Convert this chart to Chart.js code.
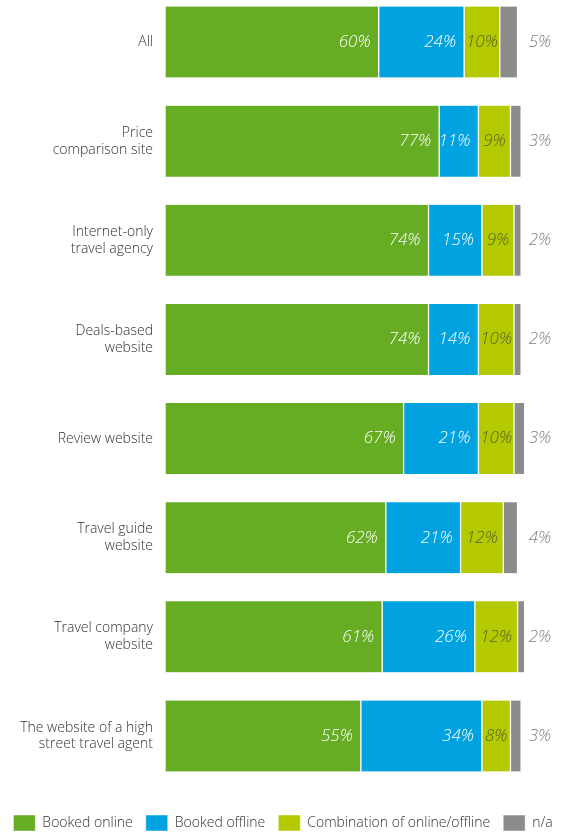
<!DOCTYPE html>
<html>
<head>
<meta charset="utf-8">
<script src="https://cdn.jsdelivr.net/npm/chart.js@4.4.0/dist/chart.umd.min.js"></script>
<style>
  body { margin: 0; background: #fff; overflow: hidden; }
  #wrap { width: 566px; height: 841px; }
</style>
</head>
<body>
<div id="wrap"><canvas id="myChart"></canvas></div>
<script>
var kategori = [
    "All",
    ["Price", "comparison site"],
    ["Internet-only", "travel agency"],
    ["Deals-based", "website"],
    "Review website",
    ["Travel guide", "website"],
    ["Travel company", "website"],
    ["The website of a high", "street travel agent"]
];

var online = [60, 77, 74, 74, 67, 62, 61, 55];
var offline = [24, 11, 15, 14, 21, 21, 26, 34];
var kombinasi = [10, 9, 9, 10, 10, 12, 12, 8];
var na = [5, 3, 2, 2, 3, 4, 2, 3];

var namaSeri = ["Booked online", "Booked offline", "Combination of online/offline", "n/a"];
var warna = ['#66ad24', '#00a3e0', '#b5c900', '#8c8c8c'];

var fontUtama = "'Open Sans', 'DejaVu Sans', sans-serif";

// label persen di dalam / di samping batang
var labelPersen = {
    id: 'labelPersen',
    afterDatasetsDraw: function(chart) {
        var ctx = chart.ctx;
        var area = chart.chartArea;
        ctx.save();
        ctx.font = "italic 300 17px " + fontUtama;
        ctx.textBaseline = 'middle';
        chart.data.datasets.forEach(function(ds, i) {
            var meta = chart.getDatasetMeta(i);
            meta.data.forEach(function(bar, j) {
                var teks = ds.data[j] + '%';
                if (i == 0 || i == 1) {
                    ctx.fillStyle = '#ffffff';
                    ctx.textAlign = 'right';
                    ctx.fillText(teks, bar.x - 8, bar.y);
                } else if (i == 2) {
                    ctx.fillStyle = '#5b6128';
                    ctx.textAlign = 'center';
                    ctx.fillText(teks, (bar.x + bar.base) / 2, bar.y);
                } else {
                    ctx.fillStyle = '#7f7f7f';
                    ctx.textAlign = 'center';
                    ctx.fillText(teks, area.right - 26, bar.y);
                }
            });
        });
        ctx.restore();
    }
};

function buatSeri(i, data) {
    return {
        label: namaSeri[i],
        data: data,
        backgroundColor: warna[i],
        borderColor: '#ffffff',
        borderWidth: {left: 1, right: 1, top: 0, bottom: 0},
        borderSkipped: false,
        barThickness: 71,
        clip: false
    };
}

function chart1() {
    var ctx = document.getElementById('myChart').getContext('2d');
    var myChart = new Chart(ctx, {
        type: 'bar',
        data: {
            labels: kategori,
            datasets: [
                buatSeri(0, online),
                buatSeri(1, offline),
                buatSeri(2, kombinasi),
                buatSeri(3, na)
            ]
        },
        options: {
            indexAxis: 'y',
            responsive: true,
            maintainAspectRatio: false,
            animation: false,
            layout: {
                padding: {top: 42, right: 0, bottom: 0, left: 0}
            },
            scales: {
                x: {
                    stacked: true,
                    min: 0,
                    max: 112.6, // ruang kosong di kanan untuk label n/a
                    grid: {display: false, drawTicks: false},
                    border: {display: false},
                    ticks: {display: false},
                    afterFit: function(scale) { scale.height = 66; }
                },
                y: {
                    stacked: true,
                    offset: false,
                    grid: {display: false, drawTicks: false},
                    border: {display: false},
                    ticks: {
                        color: '#333333',
                        padding: 12,
                        font: {family: fontUtama, size: 14, weight: 300, lineHeight: 1.2}
                    },
                    afterFit: function(scale) { scale.width = 165; }
                }
            },
            plugins: {
                legend: {
                    position: 'bottom',
                    labels: {
                        boxWidth: 22,
                        boxHeight: 16,
                        padding: 13,
                        color: '#333333',
                        font: {family: fontUtama, size: 14, weight: 300}
                    }
                },
                tooltip: {enabled: false}
            }
        },
        plugins: [labelPersen]
    });
}
chart1()
</script>
</body>
</html>
